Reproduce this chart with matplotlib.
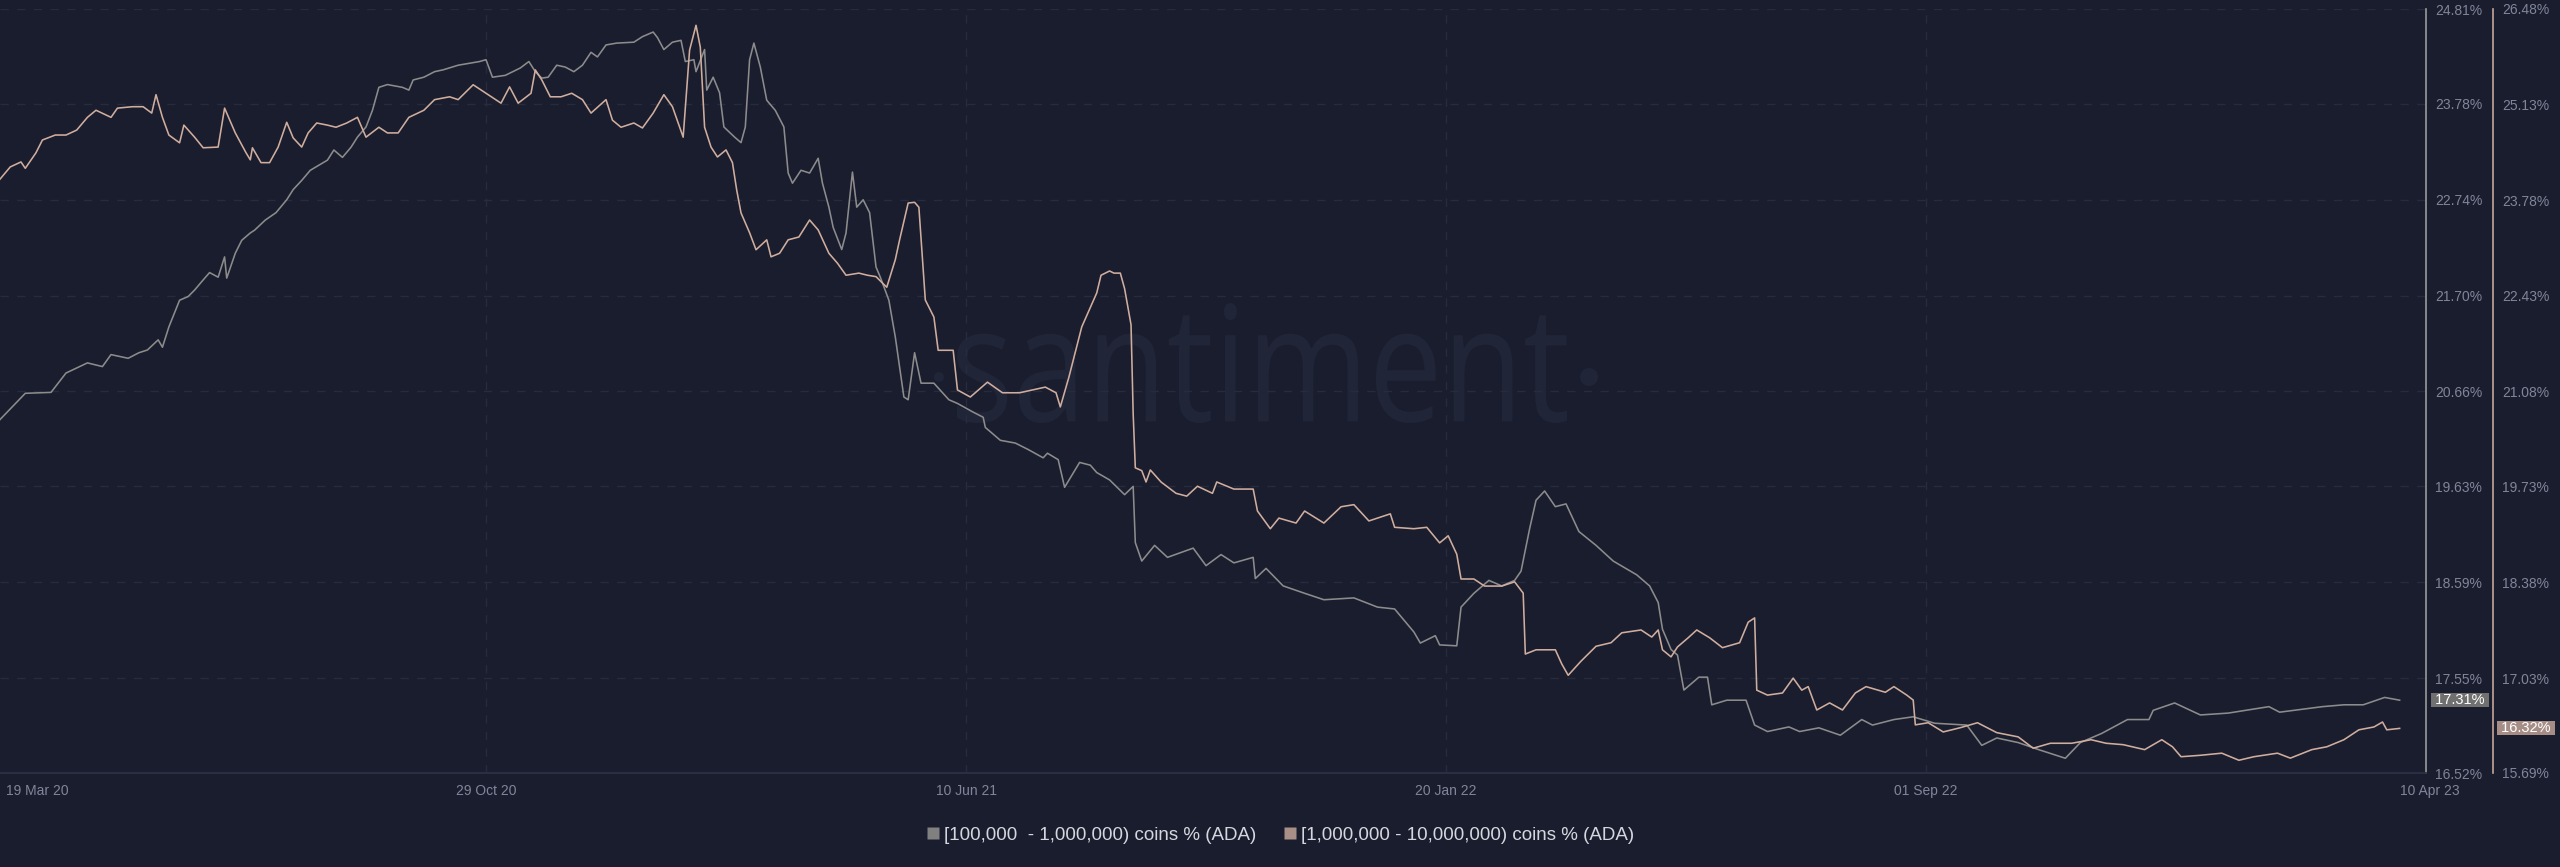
import matplotlib
matplotlib.use("Agg")
import matplotlib.pyplot as plt
import pandas as pd
from matplotlib.lines import Line2D
from matplotlib.textpath import TextPath
from matplotlib.patches import PathPatch, Circle
from matplotlib.font_manager import FontProperties
from matplotlib.transforms import Affine2D, blended_transform_factory

# ---- data, days counted from 19 Mar 2020 ----
start_date = "2020-03-19"

gray_label = "[100,000  - 1,000,000) coins % (ADA)"
gray_days = [
    -3, 9, 21, 28, 38, 45, 49, 57, 62, 66,
    71, 73, 76, 81, 85, 88, 92, 95, 99, 102,
    103, 107, 110, 114, 116, 121, 126, 131, 134, 138,
    142, 150, 153, 157, 161, 164, 168, 171, 174, 178,
    185, 188, 190, 195, 200, 204, 211, 221, 224, 227,
    233, 240, 244, 247, 250, 253, 257, 261, 265, 269,
    273, 276, 280, 285, 293, 297, 302, 304, 307, 311,
    315, 317, 321, 322, 326, 327, 330, 333, 335, 340,
    343, 345, 347, 349, 352, 355, 359, 363, 365, 367,
    371, 375, 379, 381, 384, 386, 390, 392, 395, 397,
    400, 403, 406, 408, 412, 415, 419, 421, 424, 427,
    433, 440, 444, 451, 456, 457, 464, 471, 477, 484,
    486, 491, 494, 501, 506, 509, 515, 522, 526, 527,
    530, 536, 542, 554, 560, 567, 573, 582, 583, 588,
    596, 606, 615, 629, 640, 648, 657, 660, 667, 669,
    677, 679, 685, 692, 698, 704, 707, 711, 714, 718,
    723, 728, 734, 742, 750, 761, 767, 771, 773, 777,
    780, 783, 790, 794, 796, 803, 812, 816, 822, 832,
    837, 846, 856, 866, 871, 881, 890, 900, 915, 922,
    929, 939, 949, 961, 968, 978, 990, 1000, 1002, 1012,
    1024, 1037, 1056, 1061, 1081, 1091, 1100, 1110, 1117,
]
gray_pct = [
    20.35, 20.64, 20.65, 20.86, 20.97, 20.93, 21.06, 21.02, 21.08, 21.11,
    21.22, 21.14, 21.36, 21.65, 21.69, 21.76, 21.87, 21.95, 21.90, 22.12,
    21.89, 22.16, 22.30, 22.38, 22.41, 22.52, 22.60, 22.74, 22.85, 22.95,
    23.06, 23.17, 23.28, 23.20, 23.31, 23.42, 23.53, 23.71, 23.96, 23.99,
    23.96, 23.93, 24.04, 24.07, 24.13, 24.15, 24.20, 24.24, 24.26, 24.07,
    24.09, 24.17, 24.24, 24.13, 24.06, 24.07, 24.20, 24.18, 24.13, 24.20,
    24.34, 24.29, 24.42, 24.44, 24.45, 24.51, 24.56, 24.50, 24.37, 24.45,
    24.47, 24.24, 24.26, 24.13, 24.37, 23.93, 24.07, 23.90, 23.53, 23.42,
    23.36, 23.53, 24.26, 24.44, 24.18, 23.82, 23.71, 23.53, 23.03, 22.92,
    23.06, 23.03, 23.19, 22.92, 22.66, 22.44, 22.20, 22.38, 23.04, 22.66,
    22.74, 22.60, 22.01, 21.90, 21.65, 21.25, 20.60, 20.57, 21.08, 20.75,
    20.75, 20.57, 20.53, 20.44, 20.38, 20.27, 20.13, 20.10, 20.03, 19.94,
    19.99, 19.92, 19.62, 19.89, 19.86, 19.78, 19.70, 19.54, 19.63, 19.02,
    18.82, 18.99, 18.86, 18.96, 18.77, 18.89, 18.80, 18.86, 18.63, 18.74,
    18.55, 18.47, 18.40, 18.42, 18.32, 18.30, 18.05, 17.93, 18.01, 17.91,
    17.90, 18.32, 18.47, 18.61, 18.55, 18.61, 18.71, 19.17, 19.48, 19.58,
    19.41, 19.44, 19.14, 18.99, 18.82, 18.67, 18.55, 18.37, 18.08, 17.86,
    17.80, 17.42, 17.56, 17.56, 17.26, 17.31, 17.31, 17.04, 16.97, 17.02,
    16.97, 17.01, 16.93, 17.10, 17.04, 17.10, 17.13, 17.06, 17.04, 16.82,
    16.90, 16.85, 16.77, 16.68, 16.85, 16.95, 17.10, 17.10, 17.20, 17.28,
    17.15, 17.17, 17.24, 17.18, 17.24, 17.26, 17.26, 17.34, 17.31,
]

tan_label = "[1,000,000 - 10,000,000) coins % (ADA)"
tan_days = [
    -3, 2, 7, 9, 14, 17, 23, 28, 33, 38,
    42, 49, 52, 59, 64, 68, 70, 73, 76, 81,
    83, 88, 92, 99, 102, 107, 112, 114, 115, 119,
    123, 127, 131, 134, 138, 141, 145, 150, 154, 159,
    164, 168, 174, 178, 183, 188, 195, 200, 207, 211,
    218, 224, 231, 235, 239, 245, 247, 250, 254, 259,
    264, 269, 273, 280, 283, 287, 293, 297, 302, 307,
    311, 316, 319, 322, 324, 326, 329, 332, 336, 339,
    341, 343, 347, 350, 355, 357, 361, 365, 370, 375,
    379, 384, 388, 392, 398, 402, 406, 411, 415, 417,
    421, 424, 426, 429, 433, 435, 442, 444, 450, 458,
    465, 473, 479, 485, 490, 492, 496, 502, 509, 511,
    515, 517, 520, 522, 525, 526, 527, 530, 532, 534,
    539, 546, 551, 556, 563, 565, 573, 582, 584, 590,
    594, 602, 606, 615, 623, 629, 636, 646, 648, 657,
    663, 669, 673, 677, 679, 685, 690, 698, 704, 708,
    709, 714, 723, 726, 729, 735, 742, 749, 754, 763,
    768, 771, 773, 777, 780, 785, 789, 795, 801, 809,
    813, 816, 817, 822, 829, 834, 838, 841, 845, 851,
    857, 863, 868, 877, 881, 887, 890, 891, 897, 904,
    912, 920, 929, 939, 946, 954, 964, 973, 980, 988,
    998, 1006, 1011, 1015, 1024, 1034, 1042, 1049, 1060, 1066,
    1076, 1083, 1091, 1098, 1105, 1109, 1111, 1117,
]
tan_pct = [
    24.07, 24.25, 24.32, 24.23, 24.45, 24.63, 24.70, 24.70, 24.77, 24.95,
    25.05, 24.95, 25.08, 25.10, 25.10, 25.01, 25.27, 24.95, 24.70, 24.59,
    24.84, 24.67, 24.52, 24.53, 25.08, 24.73, 24.45, 24.35, 24.52, 24.31,
    24.31, 24.53, 24.88, 24.66, 24.53, 24.73, 24.87, 24.84, 24.81, 24.87,
    24.95, 24.67, 24.81, 24.73, 24.73, 24.95, 25.05, 25.20, 25.24, 25.20,
    25.41, 25.29, 25.15, 25.38, 25.15, 25.29, 25.62, 25.48, 25.24, 25.24,
    25.29, 25.20, 25.01, 25.20, 24.91, 24.81, 24.87, 24.80, 25.01, 25.27,
    25.10, 24.67, 25.90, 26.25, 25.94, 24.81, 24.53, 24.39, 24.49, 24.31,
    23.92, 23.60, 23.32, 23.08, 23.22, 22.98, 23.03, 23.22, 23.26, 23.50,
    23.36, 23.03, 22.89, 22.72, 22.75, 22.72, 22.70, 22.55, 22.94, 23.22,
    23.74, 23.75, 23.68, 22.37, 22.13, 21.66, 21.66, 21.10, 21.00, 21.21,
    21.06, 21.06, 21.10, 21.14, 21.06, 20.86, 21.28, 21.99, 22.47, 22.72,
    22.78, 22.75, 22.75, 22.53, 22.02, 20.76, 20.00, 19.96, 19.80, 19.97,
    19.80, 19.64, 19.60, 19.74, 19.64, 19.80, 19.70, 19.70, 19.39, 19.14,
    19.29, 19.22, 19.39, 19.22, 19.45, 19.48, 19.25, 19.35, 19.16, 19.14,
    19.16, 18.94, 19.04, 18.78, 18.43, 18.43, 18.33, 18.33, 18.39, 18.23,
    17.37, 17.43, 17.43, 17.23, 17.07, 17.27, 17.48, 17.53, 17.67, 17.71,
    17.61, 17.71, 17.43, 17.33, 17.47, 17.60, 17.71, 17.60, 17.46, 17.53,
    17.82, 17.88, 16.86, 16.79, 16.82, 17.03, 16.86, 16.91, 16.58, 16.68,
    16.58, 16.82, 16.91, 16.83, 16.91, 16.79, 16.72, 16.37, 16.40, 16.27,
    16.33, 16.40, 16.26, 16.20, 16.04, 16.11, 16.11, 16.16, 16.11, 16.09,
    16.02, 16.16, 16.06, 15.92, 15.94, 15.97, 15.87, 15.92, 15.97, 15.90,
    16.02, 16.06, 16.16, 16.30, 16.34, 16.41, 16.30, 16.32,
]

left_ticks = [16.52, 17.55, 18.59, 19.63, 20.66, 21.70, 22.74, 23.78, 24.81]
right_ticks = [15.69, 17.03, 18.38, 19.73, 21.08, 22.43, 23.78, 25.13, 26.48]
x_tick_dates = ["2020-03-19", "2020-10-29", "2021-06-10", "2022-01-20", "2022-09-01", "2023-04-10"]
x_tick_labels = ["19 Mar 20", "29 Oct 20", "10 Jun 21", "20 Jan 22", "01 Sep 22", "10 Apr 23"]

# ---- style ----
BG = "#1a1d2d"
GRAY = "#8c8c8c"
TAN = "#d0ae9f"
GRID = "#272b3e"
TICK = "#80859a"
W, H = 2560, 867

plt.rcParams["font.family"] = ["Liberation Sans", "DejaVu Sans"]

start = pd.Timestamp(start_date)


def to_dates(days):
    return start + pd.to_timedelta(days, unit="D")


fig = plt.figure(figsize=(W / 100, H / 100), dpi=100, facecolor=BG)
ax1 = fig.add_axes([0, 1 - 773 / H, 2426 / W, (773 - 9) / H])
ax1.set_facecolor(BG)
ax2 = ax1.twinx()

ax1.plot(to_dates(gray_days), gray_pct, color=GRAY, lw=1.15, zorder=3)
ax2.plot(to_dates(tan_days), tan_pct, color=TAN, lw=1.15, zorder=3)

ax1.set_xlim(start + pd.Timedelta(days=-2.8), start + pd.Timedelta(days=1129.3))
ax1.set_ylim(left_ticks[0], left_ticks[-1])
ax2.set_ylim(right_ticks[0], right_ticks[-1])

# y axes, both on the right
ax1.yaxis.tick_right()
ax1.set_yticks(left_ticks, [f"{t:.2f}%" for t in left_ticks])
ax2.set_yticks(right_ticks, [f"{t:.2f}%" for t in right_ticks])
for ax in (ax1, ax2):
    ax.tick_params(axis="y", length=0, pad=6.5, labelsize=10, labelcolor=TICK)
    for s in ("left", "top", "bottom", "right"):
        ax.spines[s].set_visible(False)
ax1.spines["right"].set_visible(True)
ax1.spines["right"].set_color("#9a9a9a")
ax1.spines["right"].set_linewidth(1.2)
ax2.spines["right"].set_visible(True)
ax2.spines["right"].set_color("#c4a79b")
ax2.spines["right"].set_linewidth(1.2)
ax2.spines["right"].set_position(("outward", 67 * 0.72))
ax1.spines["bottom"].set_visible(True)
ax1.spines["bottom"].set_color("#2c3045")
ax1.spines["bottom"].set_linewidth(1.3)

ax1.grid(axis="y", color=GRID, ls=(0, (6, 6)), lw=1)
for d in x_tick_dates[1:-1]:
    ax1.axvline(pd.Timestamp(d), color=GRID, ls=(0, (6, 6)), lw=1, zorder=1)

# x axis
ax1.set_xticks(pd.to_datetime(x_tick_dates), x_tick_labels)
ax1.tick_params(axis="x", length=0, pad=8, labelsize=10, labelcolor=TICK)
xl = ax1.get_xticklabels()
xl[0].set_horizontalalignment("left")
xl[-1].set_horizontalalignment("left")

# last-value badges
ax1.annotate(f" {gray_pct[-1]:.2f}% ", xy=(1, gray_pct[-1]),
             xycoords=blended_transform_factory(ax1.transAxes, ax1.transData),
             xytext=(5 * 0.72, 0), textcoords="offset points", ha="left", va="center",
             fontsize=10.5, color="white", annotation_clip=False,
             bbox=dict(boxstyle="square,pad=0", fc="#707070", ec="none"))
ax2.annotate(f" {tan_pct[-1]:.2f}% ", xy=(1, tan_pct[-1]),
             xycoords=blended_transform_factory(ax2.transAxes, ax2.transData),
             xytext=(71 * 0.72, 0), textcoords="offset points", ha="left", va="center",
             fontsize=10.5, color="white", annotation_clip=False,
             bbox=dict(boxstyle="square,pad=0", fc="#a68e87", ec="none"))

# watermark
px = Affine2D().scale(1 / W, 1 / H) + fig.transFigure
wm_color = "#212538"
tp = TextPath((0, 0), "santiment", size=100, prop=FontProperties(family="Open Sans"))
bb = tp.get_extents()
wm_tr = Affine2D().translate(-bb.x0, -bb.y0).scale(610 / bb.width, 120 / bb.height).translate(957, H - 423) + px
ax1.add_artist(PathPatch(tp, fc=wm_color, ec="none", transform=wm_tr, zorder=0.5))
ax1.add_artist(Circle((1589, H - 377), 9, fc=wm_color, ec="none", transform=px, zorder=0.5))
ax1.add_artist(Circle((939, H - 377), 5, fc=wm_color, ec="none", transform=px, zorder=0.5))

# legend
handles = [
    Line2D([], [], marker="s", ls="none", markersize=8, markerfacecolor="#808080", markeredgecolor="none"),
    Line2D([], [], marker="s", ls="none", markersize=8, markerfacecolor="#a99087", markeredgecolor="none"),
]
fig.legend(handles, [gray_label, tan_label], loc="center", bbox_to_anchor=(0.5, 1 - 835 / H),
           ncol=2, frameon=False, fontsize=13.5, labelcolor="#d5d7e0",
           handletextpad=0.2, columnspacing=1.4, handlelength=0.8)

fig.savefig("out.png", dpi=100, facecolor=BG)
